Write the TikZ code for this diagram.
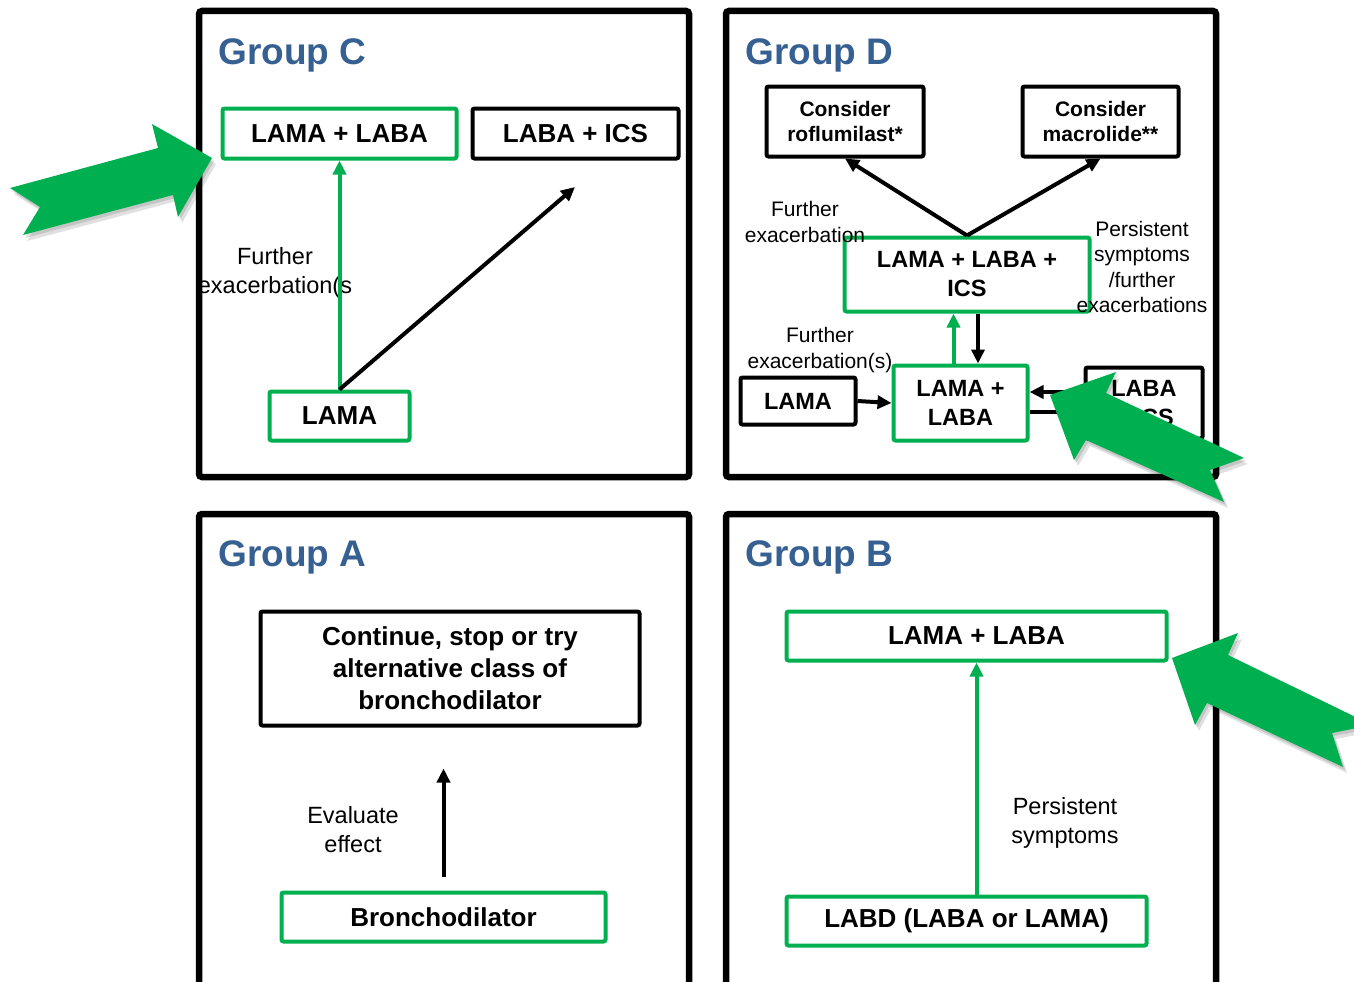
\documentclass[tikz,border=0pt]{standalone}
\usepackage{fontspec}
\setmainfont{Liberation Sans}
\usetikzlibrary{arrows.meta}
\definecolor{boxgreen}{RGB}{0,176,80}
\definecolor{titleblue}{RGB}{55,96,146}

\begin{document}
\begin{tikzpicture}[x=1pt, y=-1pt,
  panel/.style = {draw, line width=6.5pt, rounded corners=3pt},
  grouptitle/.style = {anchor=base west, text=titleblue, font=\fontsize{37}{44}\selectfont\bfseries},
  gbox/.style = {draw=boxgreen, line width=4pt, rounded corners=2pt, inner sep=0pt, align=center, font=\fontsize{26}{32}\selectfont\bfseries},
  kbox/.style = {gbox, draw=black},
  dtext/.style = {font=\fontsize{23.5}{29}\selectfont\bfseries},
  ctext/.style = {font=\fontsize{21}{25}\selectfont\bfseries},
  note/.style = {align=center, font=\fontsize{23.5}{29}\selectfont},
  smallnote/.style = {align=center, font=\fontsize{21}{25.5}\selectfont},
  pointed/.style = {-{Triangle[length=14pt,width=13pt]}, line width=4pt},
  garrow/.style = {pointed, draw=boxgreen},
  karrow/.style = {pointed, draw=black},
  bigarrow/.style = {fill=boxgreen,
    preaction={fill=black, opacity=0.12, transform canvas={shift={(2pt,-3pt)}}},
    preaction={fill=black, opacity=0.12, transform canvas={shift={(4pt,-6pt)}}}}
]
\clip (0,0) rectangle (1354,982);

% panels
\draw[panel] (199,11) rectangle (689,477);
\draw[panel] (726,11) rectangle (1216,477);
\draw[panel] (199,514) rectangle (689,995);
\draw[panel] (726,514) rectangle (1216,995);

\node[grouptitle] (tC) at (215,64) {Group C};
\node[grouptitle] (tD) at (742,64) {Group D};
\node[grouptitle] (tA) at (215,566) {Group A};
\node[grouptitle] (tB) at (742,566) {Group B};

% Group C
\node[gbox, minimum width=234pt, minimum height=50pt] (cLL) at (339.5,133.5) {LAMA + LABA};
\node[kbox, minimum width=206pt, minimum height=50pt] (cLI) at (575.5,133.5) {LABA + ICS};
\node[gbox, minimum width=140pt, minimum height=49pt] (cLAMA) at (339.5,416) {LAMA};
\coordinate (cEnd) at (575,187);
\node[note] (cNote) at (275,273) {Further\\exacerbation(s};
\draw[garrow] (cLAMA.north) -- (cLL.south);
\draw[karrow] (cLAMA.north) -- (cEnd);

% Group D
\node[kbox, ctext, align=center, minimum width=157pt, minimum height=70pt] (dRof) at (845,121.5) {Consider\\roflumilast*};
\node[kbox, ctext, align=center, minimum width=156pt, minimum height=70pt] (dMac) at (1100.5,121.5) {Consider\\macrolide**};
\node[gbox, dtext, minimum width=245pt, minimum height=74pt] (dTriple) at (967,274.5) {LAMA + LABA +\\ICS};
\node[kbox, dtext, minimum width=115pt, minimum height=47pt] (dLAMA) at (798,401) {LAMA};
\node[gbox, dtext, minimum width=134pt, minimum height=75pt] (dLL) at (960.5,403) {LAMA +\\LABA};
\node[kbox, dtext, minimum width=117pt, minimum height=71pt] (dLI) at (1144,403) {LABA\\+ ICS};
\node[smallnote] (dNote1) at (805,222) {Further\\exacerbation};
\node[smallnote] (dNote2) at (1142,267) {Persistent\\symptoms\\/further\\exacerbations};
\node[smallnote] (dNote3) at (820,350) {Further\\exacerbation(s)};
\draw[karrow] (dTriple.north) -- (dRof.south);
\draw[karrow] (dTriple.north) -- (dMac.south);
\draw[garrow] ([xshift=-7pt]dLL.north) -- ([xshift=-7pt]dLL.north |- dTriple.south);
\draw[karrow] ([xshift=11pt]dTriple.south) -- ([xshift=11pt]dTriple.south |- dLL.north);
\draw[karrow] (dLAMA.east) -- (dLL.west);
\draw[karrow] ([yshift=11pt]dLI.west) -- ([yshift=11pt]dLI.west -| dLL.east);
\draw[karrow] ([yshift=-9pt]dLL.east) -- ([yshift=-9pt]dLL.east -| dLI.west);

% Group A
\node[kbox, minimum width=379pt, minimum height=114pt] (aBox) at (450,668.5) {Continue, stop or try\\alternative class of\\bronchodilator};
\node[gbox, minimum width=324pt, minimum height=49pt] (aBron) at (443.5,917) {Bronchodilator};
\node[note] (aNote) at (353,830) {Evaluate\\effect};
\draw[karrow, shorten <=14pt, shorten >=41pt] (aBron.north) -- (aBron.north |- aBox.south);

% Group B
\node[gbox, minimum width=380pt, minimum height=49pt] (bLL) at (976.5,636) {LAMA + LABA};
\node[gbox, minimum width=360pt, minimum height=49pt] (bLABD) at (966.5,921) {LABD (LABA or LAMA)};
\node[note] (bNote) at (1065,823) {Persistent\\symptoms};
\draw[garrow] (bLABD.north -| bLL.south) -- (bLL.south);

% big green pointers
\path[bigarrow] (10,188) -- (158,148) -- (152,124) -- (212,158) -- (178,217) -- (173,195) -- (23,235) -- (40,207) -- cycle;
\path[bigarrow] (1050,395) -- (1116,372) -- (1106,393) -- (1244,458) -- (1210,470) -- (1224,502) -- (1086,440) -- (1074,460) -- cycle;
\path[bigarrow] (1172,658) -- (1238,633) -- (1228,655) -- (1372,725) -- (1332,733) -- (1343,767) -- (1207,703) -- (1195,725) -- cycle;
\end{tikzpicture}
\end{document}
